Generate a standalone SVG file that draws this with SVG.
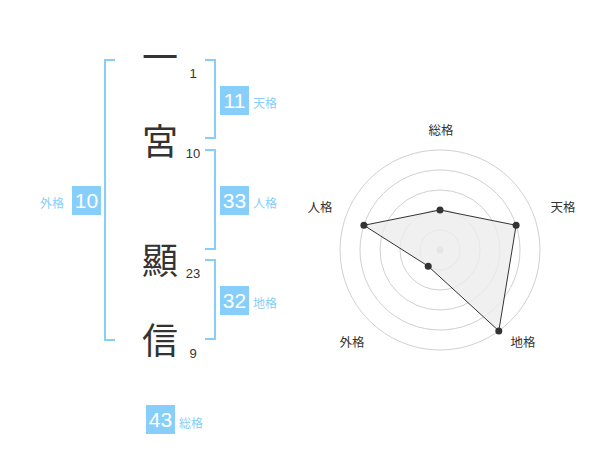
<svg xmlns="http://www.w3.org/2000/svg" width="600" height="470" viewBox="0 0 600 470">
<style>
.kanji{font-family:"Noto Sans CJK JP","Noto Sans CJK SC",sans-serif;font-size:36px;fill:#333;text-anchor:middle}
.num{font-family:"Liberation Sans",Arial,sans-serif;font-size:13px;fill:#333;text-anchor:middle}
.br{fill:none;stroke:#87cefa;stroke-width:2}
.box{fill:#87cefa}
.bt{font-family:"Liberation Sans",Arial,sans-serif;font-size:21px;fill:#fff;text-anchor:middle}
.lb{font-family:"Noto Sans CJK JP","Noto Sans CJK SC",sans-serif;font-size:12px;fill:#87cefa}
.ring{fill:none;stroke:#d0d0d0;stroke-width:1}
.ax{font-family:"Noto Sans CJK JP","Noto Sans CJK SC",sans-serif;font-size:12.5px;fill:#333;text-anchor:middle}
.pt{fill:#333}
</style>
<rect width="600" height="470" fill="#fff"/>
<g id="connectors">
<path class="br" d="M115,60 H105 V340 H115"/>
<path class="br" d="M205,60 H215 V138 H205"/>
<path class="br" d="M205,150 H215 V249 H205"/>
<path class="br" d="M205,260 H215 V339 H205"/>
</g>
<g id="char1"><text class="kanji" x="160" y="71">一</text><text class="num" x="193" y="78">1</text></g>
<g id="char2"><text class="kanji" x="160" y="155">宮</text><text class="num" x="193" y="158">10</text></g>
<g id="char3"><text class="kanji" x="160" y="274">顯</text><text class="num" x="193" y="278">23</text></g>
<g id="char4"><text class="kanji" x="160" y="354">信</text><text class="num" x="193" y="358">9</text></g>
<g id="tenkaku"><rect class="box" x="220" y="86" width="29" height="29"/><text class="bt" x="234.5" y="108">11</text><text class="lb" x="253" y="108">天格</text></g>
<g id="jinkaku"><rect class="box" x="220" y="186" width="29" height="29"/><text class="bt" x="234.5" y="208">33</text><text class="lb" x="253" y="208">人格</text></g>
<g id="chikaku"><rect class="box" x="220" y="286" width="29" height="29"/><text class="bt" x="234.5" y="308">32</text><text class="lb" x="253" y="308">地格</text></g>
<g id="gaikaku"><rect class="box" x="72" y="186" width="29" height="29"/><text class="bt" x="86.5" y="208">10</text><text class="lb" x="40" y="208">外格</text></g>
<g id="soukaku"><rect class="box" x="146" y="405" width="29" height="29"/><text class="bt" x="160.5" y="427">43</text><text class="lb" x="179" y="428">総格</text></g>
<g id="radar">
<circle class="ring" cx="440" cy="250" r="20"/>
<circle class="ring" cx="440" cy="250" r="40"/>
<circle class="ring" cx="440" cy="250" r="60"/>
<circle class="ring" cx="440" cy="250" r="80"/>
<circle class="ring" cx="440" cy="250" r="100"/>
<circle cx="440" cy="250" r="3.5" fill="#c8c8c8"/>
<polygon points="440,210 516.1,225.3 498.8,330.9 428.2,266.2 363.9,225.3" fill="#ececec" fill-opacity="0.8" stroke="#333" stroke-width="1"/>
<circle class="pt" cx="440" cy="210" r="3.5"/>
<circle class="pt" cx="516.1" cy="225.3" r="3.5"/>
<circle class="pt" cx="498.8" cy="330.9" r="3.5"/>
<circle class="pt" cx="428.2" cy="266.2" r="3.5"/>
<circle class="pt" cx="363.9" cy="225.3" r="3.5"/>
<text class="ax" x="441" y="135">総格</text>
<text class="ax" x="563" y="212">天格</text>
<text class="ax" x="523" y="347">地格</text>
<text class="ax" x="352" y="347">外格</text>
<text class="ax" x="320" y="212">人格</text>
</g>
</svg>
